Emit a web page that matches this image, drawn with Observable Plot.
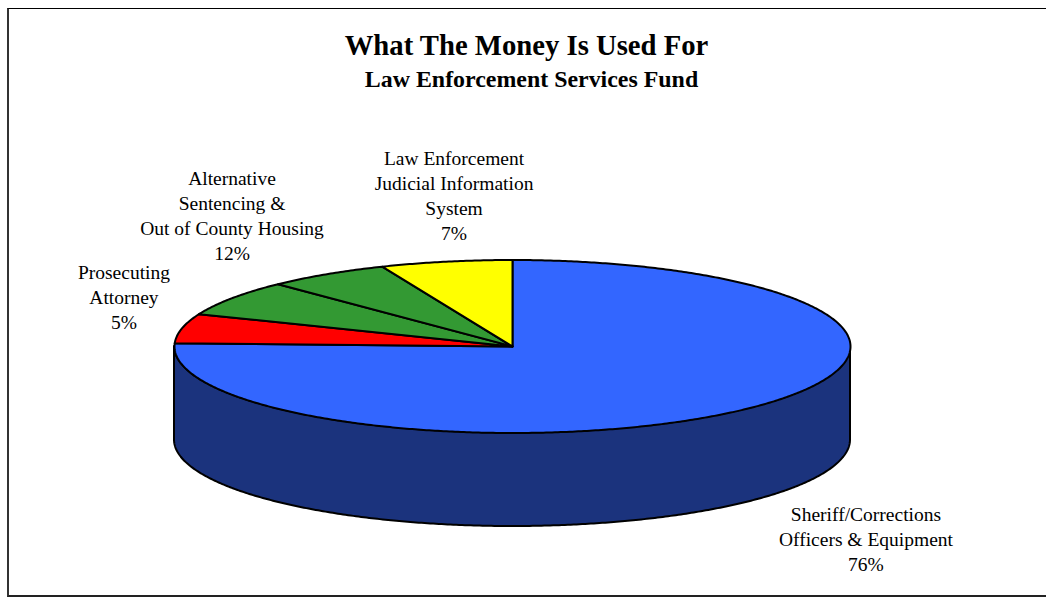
<!DOCTYPE html>
<html><head><meta charset="utf-8">
<script src="https://cdn.jsdelivr.net/npm/d3@7"></script>
<script src="https://cdn.jsdelivr.net/npm/@observablehq/plot@0.6"></script>
<style>
html,body{margin:0;padding:0;overflow:hidden;background:#fff;width:1046px;height:597px;}
#page{position:relative;width:1046px;height:597px;font-family:"Liberation Serif","Times New Roman",serif;color:#000;}
#frame{position:absolute;left:7px;top:8px;width:1100px;height:586px;border-top:1px solid #000;border-left:2px solid #333;border-bottom:2px solid #222;}
#header{position:relative;height:100px;}
#title{position:absolute;left:0;width:1053px;top:31px;text-align:center;font-weight:bold;font-size:28.7px;line-height:1;white-space:nowrap;}
#subtitle{position:absolute;left:0;width:1063px;top:68px;text-align:center;font-weight:bold;font-size:23.9px;line-height:1;white-space:nowrap;}
#chart{position:relative;height:497px;}
#chart svg{display:block;}
</style>
</head><body>
<div id="page">
  <div id="frame"></div>
  <div id="header">
    <div id="title">What The Money Is Used For</div>
    <div id="subtitle">Law Enforcement Services Fund</div>
  </div>
  <div id="chart"></div>
</div>
<script>
// ---- data ----
const categories = [
  "Sheriff/Corrections Officers & Equipment",
  "Prosecuting Attorney",
  "Alternative Sentencing",
  "Out of County Housing",
  "Law Enforcement Judicial Information System"
];
const shares = [75.6, 5.5, 6.7, 5.9, 6.3];
const labelTexts = [
  "Sheriff/Corrections\nOfficers & Equipment",
  "Prosecuting\nAttorney",
  "Alternative\nSentencing &\nOut of County Housing",
  "Law Enforcement\nJudicial Information\nSystem"
];
const labelPercents = ["76%", "5%", "12%", "7%"];
const labelSlices = [[0], [1], [2, 3], [4]];

// ---- style ----
const palette = ["#3366FF", "#FF0000", "#339933", "#339933", "#FFFF00"];
const sideColor = "#1B337D";
const tilt = 86.5 / 338;   // vertical squash of the pie disc
const depth = 93.5 / 338;  // thickness of the pie
const labelNudges = [[119, 69], [-58, 1], [-40, -26], [8, -22]];

// ---- geometry derived from the values ----
const total = d3.sum(shares);
const cum = [0];
shares.forEach(v => cum.push(cum[cum.length - 1] + v));
const ang = p => (p / total) * 2 * Math.PI;
const step = Math.PI / 360;

const slicePolys = shares.map((v, i) => {
  const a0 = ang(cum[i]), a1 = ang(cum[i + 1]);
  const pts = [{x: 0, y: 0}];
  const n = Math.max(2, Math.ceil((a1 - a0) / step));
  for (let k = 0; k <= n; k++) {
    const a = a0 + (a1 - a0) * k / n;
    pts.push({x: Math.sin(a), y: tilt * Math.cos(a)});
  }
  pts.push({x: 0, y: 0});
  return pts;
});

// front wall (visible side) from the right extreme through the front to the left extreme
const wall = d3.range(0, 361).map(k => {
  const a = Math.PI / 2 + Math.PI * k / 360;
  const yt = tilt * Math.cos(a);
  return {x: Math.sin(a), yTop: yt, yBot: yt - depth};
});

const labels = labelSlices.map((idx, j) => {
  const p0 = cum[idx[0]], p1 = cum[idx[idx.length - 1] + 1];
  const a = ang((p0 + p1) / 2);
  const front = Math.cos(a) < 0;
  return {
    x: Math.sin(a),
    y: tilt * Math.cos(a) - (front ? depth : 0),
    text: labelTexts[j] + "\n" + labelPercents[j]
  };
});

const W = 1046, H = 497;
const cx = 512, cy = 246, rx = 338;

const marks = [
  Plot.areaY(wall, {x: "x", y1: "yTop", y2: "yBot", fill: sideColor, stroke: "black", strokeWidth: 2, strokeLinejoin: "round"}),
  ...slicePolys.map((pts, i) => Plot.line(pts, {x: "x", y: "y", fill: palette[i], stroke: "black", strokeWidth: 2, strokeLinejoin: "round"})),
  ...labels.map((d, j) => Plot.text([d], {
    x: "x", y: "y", text: "text",
    dx: labelNudges[j][0], dy: labelNudges[j][1],
    lineAnchor: "bottom", textAnchor: "middle",
    lineHeight: 25 / 19.5,
    fontSize: 19.5, fontFamily: "'Liberation Serif', 'Times New Roman', serif",
    fill: "black"
  }))
];

const chart = Plot.plot({
  width: W, height: H,
  margin: 0,
  x: {domain: [-cx / rx, (W - cx) / rx], axis: null},
  y: {domain: [(cy - H) / rx, cy / rx], axis: null},
  style: {background: "transparent", overflow: "visible", fontFamily: "'Liberation Serif', 'Times New Roman', serif"},
  marks
});
document.getElementById("chart").appendChild(chart);
</script>
</body></html>
